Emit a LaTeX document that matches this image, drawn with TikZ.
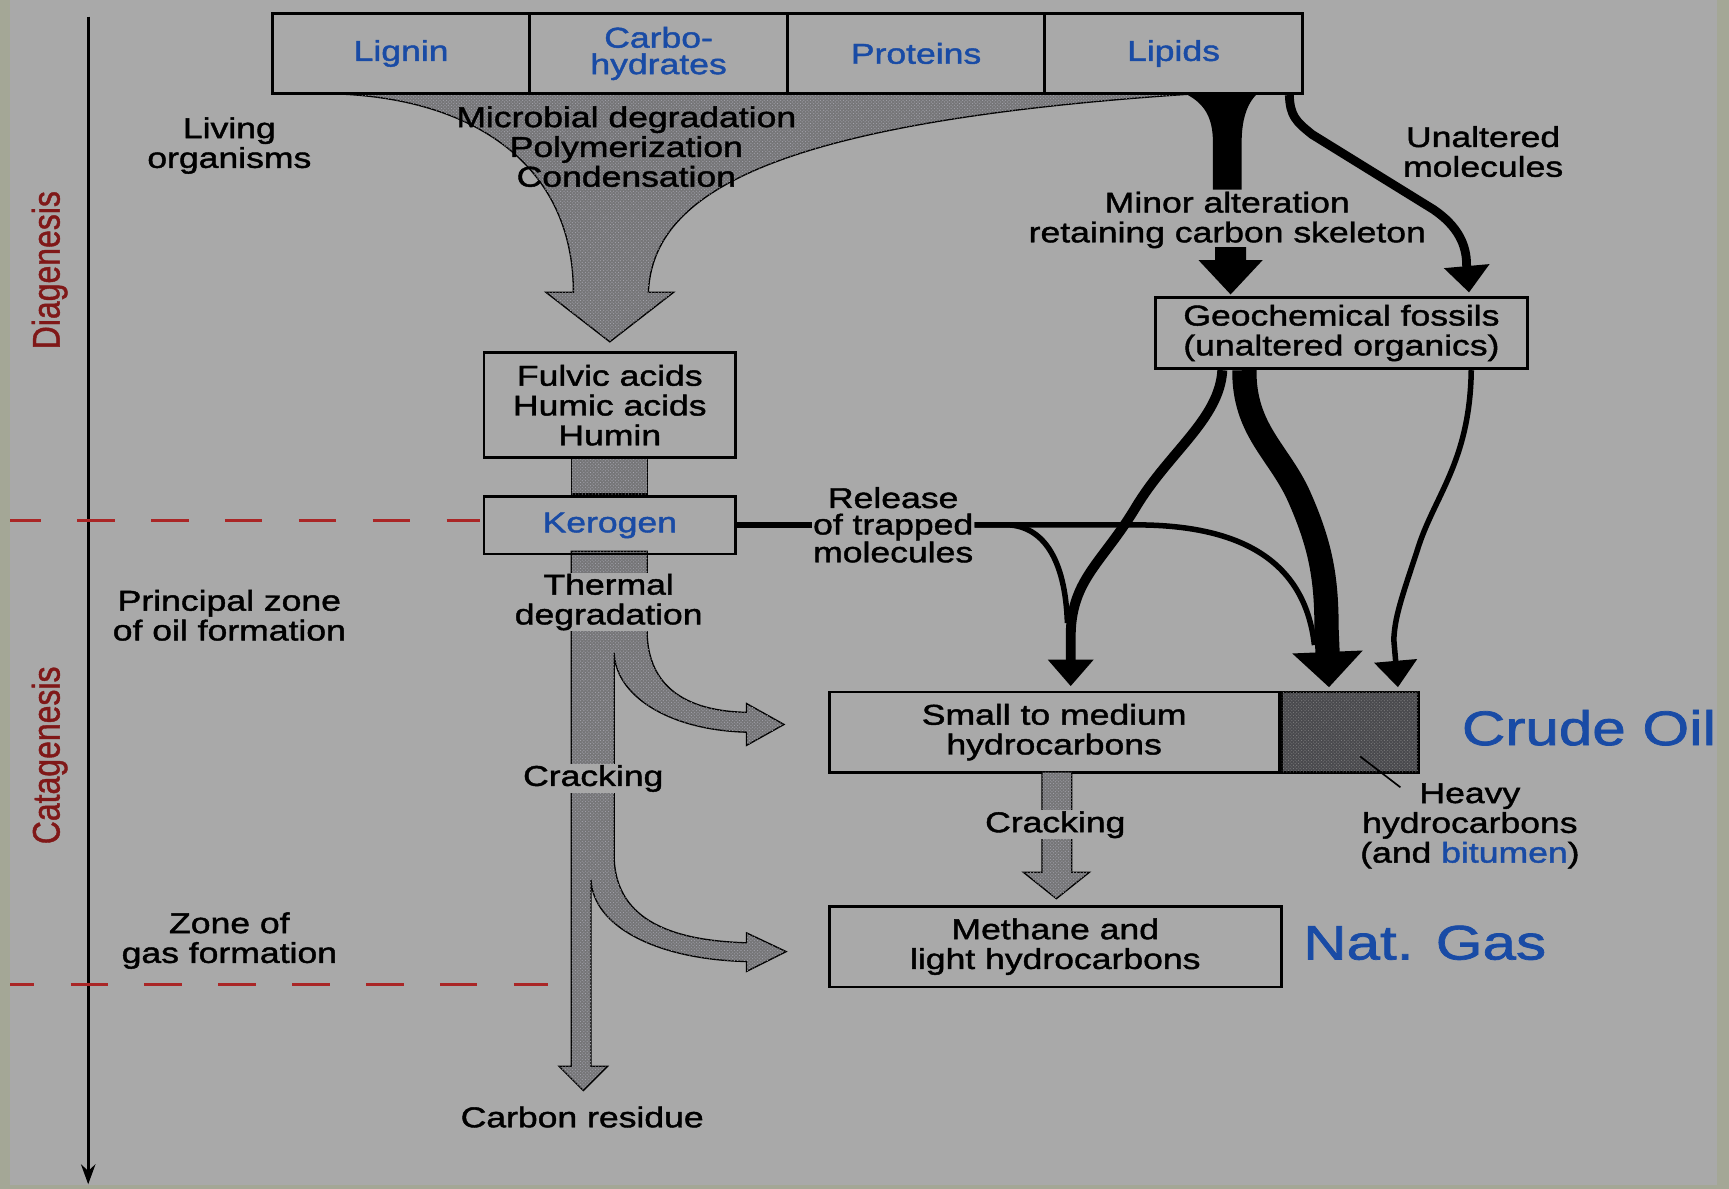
\documentclass[tikz,border=0pt]{standalone}
\usepackage{graphicx}
\usepackage{fontspec}
\setmainfont{Liberation Sans}[FakeStretch=1.24, FakeBold=1.5]
\newfontfamily\stagefont{Liberation Sans}[FakeBold=1.2]
\usetikzlibrary{arrows.meta, positioning, patterns, calc}

\definecolor{bggray}{RGB}{169,169,169}
\definecolor{stipgray}{RGB}{118,118,120}
\definecolor{dotgray}{RGB}{165,165,175}
\definecolor{heavygray}{RGB}{74,74,78}
\definecolor{labelblue}{RGB}{25,75,165}
\definecolor{zonered}{RGB}{170,38,38}
\definecolor{stagered}{RGB}{128,24,24}
\definecolor{edgegreen}{RGB}{164,167,150}

\tikzset{
	box/.style={draw, line width=2.5pt, inner sep=0pt, align=center},
	srcbox/.style={box, minimum width=233.5pt, minimum height=73pt, text=labelblue, font=\fontsize{26}{24}\selectfont},
	lbl/.style={align=center, inner sep=1pt},
	stip/.style={fill=stipgray, draw=black, line width=1.2pt, postaction={pattern=crosshatch dots, pattern color=dotgray}},
	zone/.style={draw=zonered, line width=2.5pt, dash pattern=on 34pt off 33pt},
	stage/.style={rotate=90, text=stagered, font=\stagefont\fontsize{29}{30}\selectfont},
	big/.style={text=labelblue, font=\fontsize{44}{48}\selectfont},
}

\begin{document}
\begin{tikzpicture}[x=1pt, y=-1pt, font=\fontsize{26}{27}\selectfont]
	\fill[bggray] (0,0) rectangle (1568,1078);
	\useasboundingbox (0,0) rectangle (1568,1078);

	\coordinate (axtop) at (80,15);
	\coordinate (axbot) at (80,1074);
	\draw[line width=2.5pt, -{Stealth[length=18pt,width=13pt]}] (axtop) -- (axbot);
	\node[stage] (diag) at (45,245) {\scalebox{1}[1.2]{Diagenesis}};
	\node[stage] (cata) at (45,685) {\scalebox{1}[1.2]{Catagenesis}};
	\draw[zone] (3,472) -- (435,472);
	\draw[zone] (-3,893) -- (497,893);
	\node[lbl] (living) at (208,132) {Living\\organisms};
	\node[lbl] (oilzone) at (208,558) {Principal zone\\of oil formation};
	\node[lbl] (gaszone) at (208,853) {Zone of\\gas formation};

	% funnel below the sources
	\filldraw[stip] (300,85) .. controls (430,88) and (520,150) .. (520,265) -- (495,265) -- (553,310) -- (611,265) -- (588,265) .. controls (592,175) and (700,110) .. (1085,85) -- cycle;
	\fill (1075,85) .. controls (1095,95) and (1100,110) .. (1100,130) -- (1100,172) -- (1126,172) -- (1126,130) .. controls (1126,110) and (1130,95) .. (1140,85) -- cycle;
	\fill (1102,224) -- (1130,224) -- (1130,236) -- (1145,236) -- (1116,267) -- (1087,236) -- (1102,236) -- cycle;

	\foreach \src/\txt [count=\i] in {lignin/Lignin, carbo/{Carbo-\\hydrates}, proteins/Proteins, lipids/Lipids}
		\node[srcbox] (\src) at (130.25+233.5*\i,48.5) {\txt};

	\node[lbl] (microbial) at (568,133) {Microbial degradation\\Polymerization\\Condensation};
	\node[lbl] (minor) at (1113,199.5) {Minor alteration\\retaining carbon skeleton};
	\node[lbl] (unaltered) at (1345,137.5) {Unaltered\\molecules};

	% main shaft
	\filldraw[stip] (518,415) rectangle (587,448);
	\filldraw[stip] (518,500) -- (587,500) -- (587,578) .. controls (590,625) and (625,645) .. (677,646) -- (677,638) -- (711,657) -- (677,676) -- (677,664) .. controls (605,662) and (558,630) .. (557,592) -- (557,780) .. controls (560,835) and (610,853) .. (677,855) -- (677,846) -- (713,863) -- (677,881) -- (677,872) .. controls (595,870) and (538,840) .. (536,798) -- (536,967) -- (551,967) -- (529,989) -- (507,967) -- (518,967) -- cycle;
	\node[lbl, fill=bggray] (thermal) at (552,546) {Thermal\\degradation};
	\node[lbl, fill=bggray] (crack1) at (538,706) {Cracking};
	\node[lbl] (residue) at (528,1013) {Carbon residue};

	\node[box, minimum width=228pt, minimum height=95pt] (fulvic) at (553,367.5) {Fulvic acids\\Humic acids\\Humin};
	\node[box, minimum width=228pt, minimum height=52pt, text=labelblue, below=33pt of fulvic] (kerogen) {Kerogen};
	\node[box, minimum width=337pt, minimum height=65pt] (geo) at (1216.5,302) {Geochemical fossils\\(unaltered organics)};

	\node[box, minimum width=408pt, minimum height=73pt] (small) at (956,664) {Small to medium\\hydrocarbons};
	\node[box, minimum width=124pt, minimum height=73pt, right=0pt of small, fill=heavygray, postaction={pattern=crosshatch dots, pattern color=gray}] (heavy) {};
	\node[big] (crude) at (1441,660) {Crude Oil};
	\node[lbl] (heavytxt) at (1333,749) {Heavy\\hydrocarbons\\(and {\color{labelblue}bitumen})};
	\coordinate (hvtip) at (1270,714);
	\draw[line width=1.5pt] ($(heavy.center)+(9,22)$) -- (hvtip);

	\filldraw[stip] (945,700) -- (972,700) -- (972,791) -- (988,791) -- (958,815) -- (928,791) -- (945,791) -- cycle;
	\node[lbl, fill=bggray] (crack2) at (957,748) {Cracking};
	\node[box, minimum width=410pt, minimum height=73pt] (methane) at (957,858.5) {Methane and\\light hydrocarbons};
	\node[big] (natgas) at (1292,855) {Nat. Gas};

	% release of trapped molecules
	\node[lbl, font=\fontsize{26}{24}\selectfont] (release) at (810,476) {Release\\of trapped\\molecules};
	\draw[line width=5pt] (kerogen.east |- release.west) -- (release.west);
	\draw[line width=5pt] (release.east) -- (915,476) .. controls (945,478) and (966,505) .. (968,565);
	\draw[line width=5pt] (release.east) -- (1030,476) .. controls (1120,476) and (1183,505) .. (1192,585);

	% flows to oil
	\draw[line width=8pt, -{Triangle[length=24pt,width=40pt]}] ($(lipids.south east)+(-13,0)$) .. controls (1170,105) and (1175,110) .. (1190,122) -- (1300,190) .. controls (1322,205) and (1330,222) .. (1330,240) -- ($(geo.north east)+(-54,-3)$);
	\draw[line width=9pt, -{Triangle[length=24pt,width=40pt]}] ($(geo.south)+(-108,0)$) .. controls (1106,380) and (1060,410) .. (1030,460) .. controls (1000,510) and (972,525) .. (971,575) -- ($(small.north)+(15,-4)$);
	\draw[line width=22pt, -{Triangle[length=32pt,width=62pt]}] ($(geo.south)+(-88,0)$) .. controls (1128,390) and (1160,410) .. (1178,450) .. controls (1198,495) and (1203,525) .. (1203,570) -- ($(heavy.north west)+(44,-3)$);
	\draw[line width=5pt, -{Triangle[length=24pt,width=38pt]}] ($(geo.south east)+(-52,0)$) .. controls (1333,420) and (1300,450) .. (1285,500) .. controls (1270,545) and (1265,560) .. (1264,580) -- ($(heavy.north east)+(-20,-3)$);

	\fill[edgegreen] (0,0) rectangle (9,1078);
	\fill[edgegreen] (1557,0) rectangle (1568,1078);
	\fill[edgegreen] (0,1075) rectangle (1568,1078);
\end{tikzpicture}
\end{document}
